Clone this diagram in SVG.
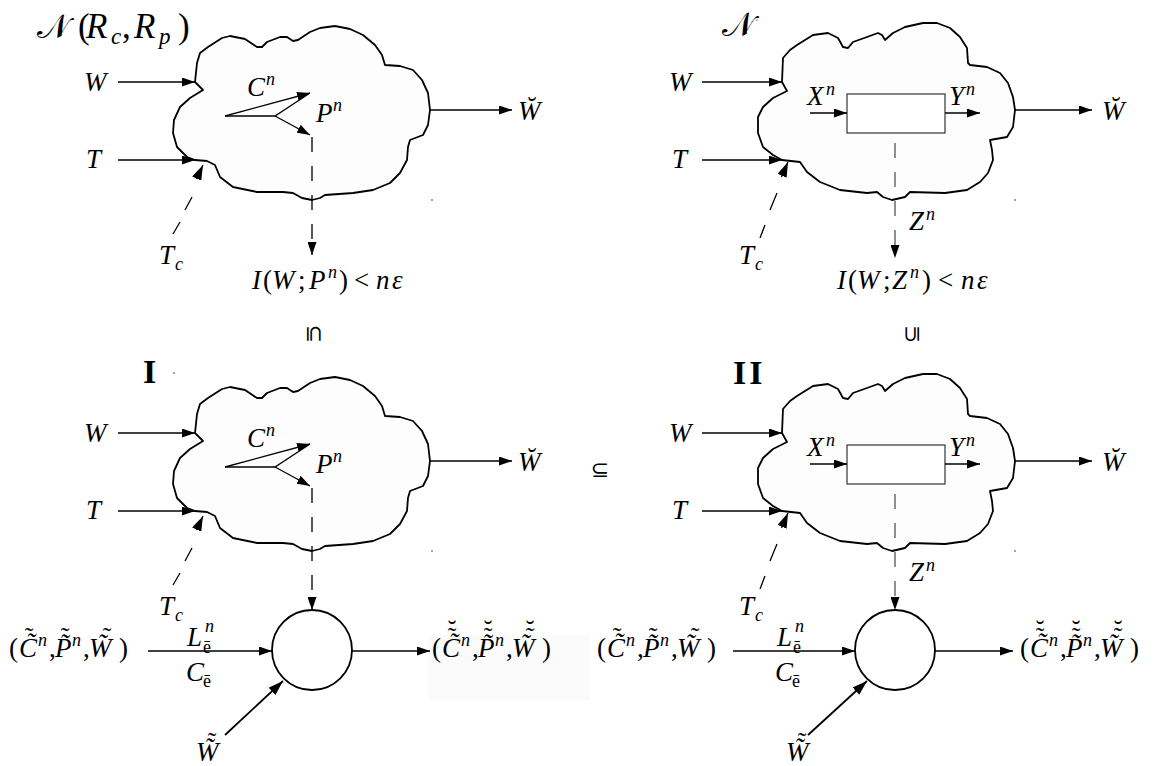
<svg xmlns="http://www.w3.org/2000/svg" width="1156" height="766" viewBox="0 0 1156 766">
<style>
.m{font-family:'Liberation Serif',serif;font-style:italic;font-size:27px;fill:#000}
.u{font-family:'Liberation Serif',serif;font-style:normal;font-size:27px}
.sup{font-size:18px}
.acc{font-family:'Liberation Serif',serif;font-style:normal;font-size:26px}
.cal{font-family:'DejaVu Serif','DejaVu Sans','Noto Sans',serif;font-style:normal;font-size:34px}
.cloud{fill:#fdfdfd;stroke:#000;stroke-width:1.8;stroke-linejoin:round}
.ln{stroke:#000;stroke-width:1.3;fill:none}
.thick{stroke:#000;stroke-width:1.8;fill:none}
.dsh{stroke:#000;stroke-width:1.3;fill:none;stroke-dasharray:15 14}
.dshg{stroke:#555;stroke-width:1.3;fill:none;stroke-dasharray:15 14}
.rel{font-family:'DejaVu Sans',sans-serif;font-size:22px;text-anchor:middle}
.bold{font-family:'Liberation Serif',serif;font-weight:bold;font-size:34px}
.dot{fill:#777}
</style>
<defs>
<marker id="ah" viewBox="0 0 13 9" refX="13" refY="4.5" markerWidth="13" markerHeight="9" markerUnits="userSpaceOnUse" orient="auto"><path d="M0,0 L13,4.5 L0,9 z" fill="#000"/></marker>
<marker id="ahb" viewBox="0 0 15 10" refX="15" refY="5" markerWidth="15" markerHeight="10" markerUnits="userSpaceOnUse" orient="auto"><path d="M0,0 L15,5 L0,10 z" fill="#000"/></marker>
<path id="cloudA" class="cloud" d="M195,82 L197,63 L200,53 L208,47 L222,38 L230,36 L245,39 L257,47 L262,47 L267,42 L280,37 L287,37 L293,41 L298,40 L310,32 L320,28 L335,26 L350,29 L363,35 L375,45 L382,55 L385,65 L400,66 L413,70 L422,80 L428,93 L430,110 L428,125 L423,135 L410,140 L408,147 L407,160 L400,173 L390,183 L373,190 L353,193 L325,195 L320,198 L312,200 L302,198 L293,193 L283,192 L257,192 L233,187 L220,177 L215,165 L207,161 L195,160 L187,157 L177,147 L173,133 L174,120 L180,107 L190,98 L203,90 Z"/>
<path id="cloudB" class="cloud" d="M782,82 L783,58 L790,50 L797,45 L813,35 L828,33 L838,38 L843,47 L848,48 L853,42 L867,37 L878,33 L882,35 L885,40 L893,33 L905,27 L923,23 L937,23 L950,28 L960,37 L967,48 L968,63 L970,65 L987,67 L1000,73 L1008,83 L1013,97 L1015,110 L1013,127 L1007,137 L990,140 L992,150 L993,160 L988,173 L980,182 L967,190 L945,193 L910,192 L905,197 L892,200 L883,197 L877,192 L867,193 L840,190 L820,182 L807,172 L800,162 L782,160 L773,155 L763,147 L758,133 L758,117 L763,107 L773,98 L787,91 Z"/>
</defs>
<rect width="1156" height="766" fill="#fff"/>
<rect x="429" y="635" width="161" height="65" fill="#fbfbfb"/>

<g id="cloud-tl"><use href="#cloudA"/></g>
<g id="cloud-tr"><use href="#cloudB"/></g>
<g id="cloud-bl"><use href="#cloudA" transform="translate(0,351)"/></g>
<g id="cloud-br"><use href="#cloudB" transform="translate(0,351)"/></g>
<g id="box-tr"><rect x="847" y="94" width="98" height="39" fill="#fff" stroke="#333" stroke-width="1.2"/></g>
<g id="box-br"><rect x="847" y="445" width="98" height="39" fill="#fff" stroke="#333" stroke-width="1.2"/></g>
<g id="circle-bl"><circle cx="312" cy="650" r="40" fill="#fff" stroke="#000" stroke-width="1.8"/></g>
<g id="circle-br"><circle cx="895" cy="650" r="40" fill="#fff" stroke="#000" stroke-width="1.8"/></g>

<g id="connectors">
<path class="ln" d="M118,82 H195" marker-end="url(#ah)"/>
<path class="ln" d="M118,160 H195" marker-end="url(#ah)"/>
<path class="ln" d="M173,234 L180,222 M185,210 L192,197"/>
<path class="ln" d="M196.5,179 L203,165" marker-end="url(#ahb)"/>
<path class="ln" d="M225,116 H275 L310,93"/>
<path class="ln" d="M225,116 L310,93" marker-end="url(#ah)"/>
<path class="ln" d="M275,116 L310,135" marker-end="url(#ah)"/>
<path class="dsh" d="M312,137 V255" marker-end="url(#ah)"/>
<path class="ln" d="M430,110 H512" marker-end="url(#ah)"/>
<path class="ln" d="M702,82 H782" marker-end="url(#ah)"/>
<path class="ln" d="M702,160 H782" marker-end="url(#ah)"/>
<path class="ln" d="M760,238 L765,225 M770,210 L777,193"/>
<path class="ln" d="M781.5,177 L788,162" marker-end="url(#ahb)"/>
<path class="ln" d="M810,113 H847" marker-end="url(#ah)"/>
<path class="ln" d="M945,113 H980" marker-end="url(#ah)"/>
<path class="dshg" d="M895,143 V258" marker-end="url(#ah)"/>
<path class="ln" d="M1015,110 H1092" marker-end="url(#ah)"/>
<path class="ln" d="M118,433 H195" marker-end="url(#ah)"/>
<path class="ln" d="M118,511 H195" marker-end="url(#ah)"/>
<path class="ln" d="M173,585 L180,573 M185,561 L192,548"/>
<path class="ln" d="M196.5,530 L203,516" marker-end="url(#ahb)"/>
<path class="ln" d="M225,467 H275 L310,444"/>
<path class="ln" d="M225,467 L310,444" marker-end="url(#ah)"/>
<path class="ln" d="M275,467 L310,486" marker-end="url(#ah)"/>
<path class="dsh" d="M312,488 V610" marker-end="url(#ah)"/>
<path class="ln" d="M430,461 H512" marker-end="url(#ah)"/>
<path class="ln" d="M148,651 H272" marker-end="url(#ah)"/>
<path class="ln" d="M352,651 H430" marker-end="url(#ah)"/>
<path class="thick" d="M225,735 L283,681" marker-end="url(#ahb)"/>
<path class="ln" d="M702,433 H782" marker-end="url(#ah)"/>
<path class="ln" d="M702,511 H782" marker-end="url(#ah)"/>
<path class="ln" d="M760,589 L765,576 M770,561 L777,544"/>
<path class="ln" d="M781.5,528 L788,513" marker-end="url(#ahb)"/>
<path class="ln" d="M810,464 H847" marker-end="url(#ah)"/>
<path class="ln" d="M945,464 H980" marker-end="url(#ah)"/>
<path class="dshg" d="M895,494 V610" marker-end="url(#ah)"/>
<path class="ln" d="M1015,461 H1092" marker-end="url(#ah)"/>
<path class="ln" d="M733,651 H855" marker-end="url(#ah)"/>
<path class="ln" d="M935,651 H1013" marker-end="url(#ah)"/>
<path class="thick" d="M808,735 L867,681" marker-end="url(#ahb)"/>
</g>

<g id="labels-tl">
<text class="m" y="38" style="font-size:35px"><tspan class="cal" x="37">𝒩</tspan><tspan class="u" style="font-size:35px" x="78">(</tspan><tspan x="86">R</tspan><tspan style="font-size:23px" x="111" y="44">c</tspan><tspan class="u" style="font-size:35px" x="122" y="38">,</tspan><tspan x="134">R</tspan><tspan style="font-size:23px" x="159" y="44">p</tspan><tspan class="u" style="font-size:35px" x="178" y="38">)</tspan></text>
<text class="m" x="84" y="91">W</text>
<text class="m" x="86" y="168">T</text>
<text class="m" x="159" y="264">T<tspan class="sup" x="175" y="270">c</tspan></text>
<text class="m" x="247" y="96">C<tspan class="sup" x="266" y="85">n</tspan></text>
<text class="m" x="316" y="122">P<tspan class="sup" x="333" y="111">n</tspan></text>
<text class="m" y="289"><tspan x="252">I</tspan><tspan class="u" x="263">(</tspan><tspan x="272">W</tspan><tspan class="u" x="298">;</tspan><tspan x="309">P</tspan><tspan class="sup" x="328" y="278">n</tspan><tspan class="u" x="339" y="289">)</tspan><tspan class="u" x="354">&lt;</tspan><tspan x="376">n</tspan><tspan x="392">ε</tspan></text>
<text class="m" x="518" y="120">W&#x306;</text>
<circle class="dot" cx="432" cy="200" r="0.9"/>
</g>

<g id="labels-tr">
<text class="cal" x="722" y="36">𝒩</text>
<circle class="dot" cx="757" cy="20" r="0.8"/>
<text class="m" x="669" y="91">W</text>
<text class="m" x="672" y="168">T</text>
<text class="m" x="739" y="264">T<tspan class="sup" x="755" y="270">c</tspan></text>
<text class="m" x="807" y="105">X<tspan class="sup" x="826" y="95">n</tspan></text>
<text class="m" x="949" y="105">Y<tspan class="sup" x="966" y="95">n</tspan></text>
<text class="m" x="909" y="230">Z<tspan class="sup" x="926" y="220">n</tspan></text>
<text class="m" y="289"><tspan x="837">I</tspan><tspan class="u" x="848">(</tspan><tspan x="857">W</tspan><tspan class="u" x="883">;</tspan><tspan x="892">Z</tspan><tspan class="sup" x="910" y="278">n</tspan><tspan class="u" x="922" y="289">)</tspan><tspan class="u" x="938">&lt;</tspan><tspan x="961">n</tspan><tspan x="977">ε</tspan></text>
<text class="m" x="1102" y="120">W&#x306;</text>
<circle class="dot" cx="1015" cy="200" r="0.9"/>
</g>

<g id="relations">
<text class="rel" transform="translate(315,334) rotate(90)" y="8">⊆</text>
<text class="rel" transform="translate(911,334) rotate(-90)" y="8">⊆</text>
<text class="rel" x="600" y="477">⊆</text>
</g>

<g id="labels-bl">
<text class="bold" x="143" y="383">I</text>
<circle class="dot" cx="174" cy="373" r="0.9"/>
<text class="m" x="84" y="442">W</text>
<text class="m" x="86" y="519">T</text>
<text class="m" x="159" y="615">T<tspan class="sup" x="175" y="621">c</tspan></text>
<text class="m" x="247" y="447">C<tspan class="sup" x="266" y="436">n</tspan></text>
<text class="m" x="316" y="473">P<tspan class="sup" x="333" y="462">n</tspan></text>
<text class="m" x="518" y="471">W&#x306;</text>
<circle class="dot" cx="432" cy="551" r="0.9"/>
<text class="m" y="657"><tspan class="u" x="9">(</tspan><tspan x="19">C&#x303;</tspan><tspan class="sup" x="38" y="646">n</tspan><tspan class="u" x="49" y="657">,</tspan><tspan x="55">P&#x303;</tspan><tspan class="sup" x="72" y="646">n</tspan><tspan class="u" x="83" y="657">,</tspan><tspan x="89">W&#x303;</tspan><tspan class="u" x="119">)</tspan><tspan class="acc" x="24.7" y="645">˜</tspan><tspan class="acc" x="60.7" y="645">˜</tspan><tspan class="acc" x="102.7" y="645">˜</tspan></text>
<text class="m" x="187" y="646">L<tspan class="sup" x="205" y="632">n</tspan><tspan class="sup" style="font-style:normal" x="203" y="653">ē</tspan></text>
<text class="m" x="186" y="681">C<tspan class="sup" style="font-style:normal" x="203" y="687">ē</tspan></text>
<text class="m" y="657"><tspan class="u" x="432">(</tspan><tspan x="442">C&#x303;</tspan><tspan class="sup" x="461" y="646">n</tspan><tspan class="u" x="472" y="657">,</tspan><tspan x="478">P&#x303;</tspan><tspan class="sup" x="495" y="646">n</tspan><tspan class="u" x="506" y="657">,</tspan><tspan x="512">W&#x303;</tspan><tspan class="u" x="542">)</tspan><tspan class="acc" x="447.7 447.7" y="645 638">˜˘</tspan><tspan class="acc" x="483.7 483.7" y="645 638">˜˘</tspan><tspan class="acc" x="525.7 525.7" y="645 638">˜˘</tspan></text>
<text class="m" x="196" y="761">W&#x303;<tspan class="acc" x="207.7" y="750">˜</tspan></text>
</g>

<g id="labels-br">
<text class="bold" x="733" y="384" letter-spacing="3">II</text>
<text class="m" x="669" y="442">W</text>
<text class="m" x="672" y="519">T</text>
<text class="m" x="739" y="615">T<tspan class="sup" x="755" y="621">c</tspan></text>
<text class="m" x="807" y="456">X<tspan class="sup" x="826" y="446">n</tspan></text>
<text class="m" x="949" y="456">Y<tspan class="sup" x="966" y="446">n</tspan></text>
<text class="m" x="909" y="581">Z<tspan class="sup" x="926" y="571">n</tspan></text>
<text class="m" x="1102" y="471">W&#x306;</text>
<circle class="dot" cx="1015" cy="551" r="0.9"/>
<text class="m" y="657"><tspan class="u" x="597">(</tspan><tspan x="607">C&#x303;</tspan><tspan class="sup" x="626" y="646">n</tspan><tspan class="u" x="637" y="657">,</tspan><tspan x="643">P&#x303;</tspan><tspan class="sup" x="660" y="646">n</tspan><tspan class="u" x="671" y="657">,</tspan><tspan x="677">W&#x303;</tspan><tspan class="u" x="707">)</tspan><tspan class="acc" x="612.7" y="645">˜</tspan><tspan class="acc" x="648.7" y="645">˜</tspan><tspan class="acc" x="690.7" y="645">˜</tspan></text>
<text class="m" x="777" y="646">L<tspan class="sup" x="795" y="632">n</tspan><tspan class="sup" style="font-style:normal" x="793" y="653">ē</tspan></text>
<text class="m" x="775" y="681">C<tspan class="sup" style="font-style:normal" x="792" y="687">ē</tspan></text>
<text class="m" y="657"><tspan class="u" x="1020">(</tspan><tspan x="1030">C&#x303;</tspan><tspan class="sup" x="1049" y="646">n</tspan><tspan class="u" x="1060" y="657">,</tspan><tspan x="1066">P&#x303;</tspan><tspan class="sup" x="1083" y="646">n</tspan><tspan class="u" x="1094" y="657">,</tspan><tspan x="1100">W&#x303;</tspan><tspan class="u" x="1130">)</tspan><tspan class="acc" x="1035.7 1035.7" y="645 638">˜˘</tspan><tspan class="acc" x="1071.7 1071.7" y="645 638">˜˘</tspan><tspan class="acc" x="1113.7 1113.7" y="645 638">˜˘</tspan></text>
<text class="m" x="786" y="761">W&#x303;<tspan class="acc" x="797.7" y="750">˜</tspan></text>
</g>
</svg>
